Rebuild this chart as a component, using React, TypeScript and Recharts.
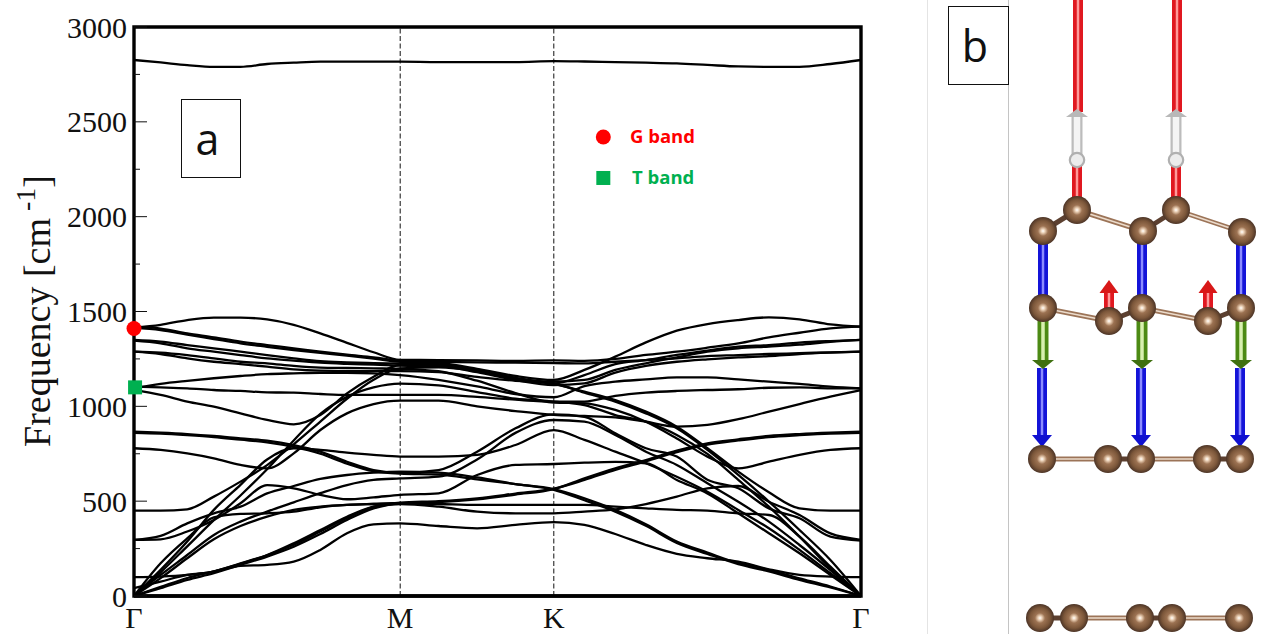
import { ComposedChart, Line, Scatter, XAxis, YAxis, ReferenceLine, ReferenceArea } from 'recharts'

// path coordinate along G-M-K-G, M = 1
const kPath = [0, 0.1, 0.2, 0.3, 0.4, 0.5, 0.6, 0.7, 0.8, 0.9, 1, 1.144, 1.289, 1.433, 1.577, 1.692, 1.808, 1.923, 2.039, 2.154, 2.27, 2.385, 2.5, 2.616, 2.731]
const kTicks = [0, 1, 1.577, 2.731]
const kLabels = ['Γ', 'M', 'K', 'Γ']
const freqTicks = [0, 250, 500, 750, 1000, 1250, 1500, 1750, 2000, 2250, 2500, 2750, 3000]

const band01 = [1415, 1430, 1455, 1468, 1468, 1458, 1430, 1385, 1335, 1285, 1245, 1244, 1242, 1240, 1242, 1240, 1250, 1271, 1288, 1309, 1332, 1364, 1388, 1411, 1420]
const band02 = [1420, 1410, 1385, 1364, 1341, 1323, 1306, 1288, 1272, 1258, 1240, 1230, 1198, 1160, 1139, 1192, 1262, 1337, 1399, 1434, 1455, 1469, 1459, 1432, 1420]
const band03 = [1415, 1402, 1378, 1355, 1332, 1314, 1297, 1282, 1268, 1252, 1235, 1234, 1232, 1230, 1228, 1226, 1235, 1244, 1253, 1265, 1270, 1276, 1280, 1285, 1288]
const band04 = [1350, 1341, 1323, 1306, 1288, 1270, 1253, 1238, 1232, 1228, 1225, 1222, 1190, 1148, 1121, 1165, 1223, 1244, 1271, 1294, 1315, 1323, 1336, 1344, 1350]
const band05 = [1346, 1332, 1306, 1288, 1270, 1253, 1241, 1230, 1224, 1220, 1215, 1212, 1180, 1138, 1112, 1121, 1178, 1213, 1235, 1248, 1258, 1265, 1276, 1283, 1288]
const band06 = [1288, 1283, 1270, 1253, 1235, 1227, 1213, 1204, 1202, 1200, 1198, 1185, 1135, 1070, 1020, 1016, 981, 919, 831, 735, 673, 708, 744, 770, 779]
const band07 = [1288, 1276, 1253, 1235, 1223, 1209, 1195, 1188, 1186, 1186, 1186, 1180, 1155, 1135, 1130, 1139, 1192, 1227, 1258, 1288, 1306, 1315, 1325, 1340, 1350]
const band08 = [1095, 1118, 1134, 1148, 1160, 1170, 1174, 1177, 1177, 1174, 1165, 1140, 1105, 1065, 1048, 1107, 1130, 1142, 1153, 1153, 1142, 1130, 1118, 1104, 1095]
const band09 = [1104, 1100, 1095, 1086, 1081, 1074, 1072, 1065, 1060, 1060, 1060, 1060, 1050, 1035, 1025, 1025, 1055, 1072, 1081, 1086, 1090, 1098, 1100, 1095, 1095]
const band10 = [1085, 1060, 1025, 998, 963, 928, 905, 954, 1068, 1156, 1218, 1215, 1190, 1150, 1118, 1077, 1033, 972, 893, 779, 656, 547, 462, 450, 450]
const band11 = [450, 450, 457, 524, 603, 690, 800, 920, 1040, 1140, 1200, 1205, 1185, 1145, 1121, 1072, 1025, 963, 884, 770, 638, 498, 348, 190, 0]
const band12 = [0, 125, 262, 400, 530, 668, 820, 960, 1050, 1100, 1120, 1110, 1075, 1040, 1025, 1007, 954, 919, 849, 749, 612, 471, 313, 146, 0]
const band13 = [779, 770, 752, 726, 691, 673, 752, 875, 963, 1012, 1030, 1030, 1000, 975, 955, 949, 942, 919, 893, 902, 932, 972, 1012, 1051, 1086]
const band14 = [0, 138, 287, 454, 586, 720, 779, 770, 756, 744, 735, 735, 744, 796, 875, 823, 761, 700, 629, 550, 454, 357, 243, 120, 0]
const band15 = [0, 111, 216, 322, 392, 445, 494, 542, 585, 612, 620, 629, 720, 860, 928, 919, 849, 761, 691, 594, 497, 392, 269, 137, 0]
const band16 = [866, 861, 854, 844, 831, 819, 796, 761, 708, 664, 650, 664, 761, 884, 958, 945, 858, 779, 735, 613, 568, 462, 410, 313, 292]
const band17 = [860, 856, 848, 838, 824, 810, 786, 750, 698, 658, 645, 640, 615, 590, 563, 515, 454, 378, 287, 229, 173, 137, 93, 50, 0]
const band18 = [296, 317, 383, 436, 471, 541, 580, 617, 638, 650, 656, 650, 625, 590, 560, 505, 445, 370, 280, 222, 168, 130, 85, 45, 0]
const band19 = [296, 299, 340, 401, 489, 585, 568, 533, 510, 520, 533, 541, 638, 691, 696, 703, 707, 700, 612, 541, 436, 331, 225, 111, 0]
const band20 = [0, 173, 304, 415, 433, 436, 445, 468, 480, 485, 489, 485, 480, 480, 480, 480, 471, 462, 454, 450, 436, 427, 313, 155, 0]
const band21 = [0, 94, 199, 299, 369, 418, 454, 471, 480, 485, 489]
const band22 = [99, 102, 111, 129, 159, 164, 181, 243, 331, 378, 383, 369, 357, 375, 389, 375, 327, 269, 222, 199, 181, 141, 111, 102, 99]
const band23 = [41, 76, 111, 129, 172, 216, 278, 348, 418, 471, 485, 471, 445, 436, 436, 445, 457, 485, 524, 568, 580, 497, 427, 330, 296]
const band24 = [0, 41, 85, 120, 164, 208, 260, 327, 401, 462, 489, 495, 510, 535, 563, 620, 673, 717, 766, 805, 826, 844, 854, 861, 866]
const band25 = [0, 48, 95, 130, 170, 215, 270, 340, 412, 470, 492, 500, 515, 540, 566, 612, 665, 710, 758, 798, 820, 838, 848, 856, 860]
const band26 = [2826, 2813, 2799, 2790, 2790, 2805, 2812, 2817, 2817, 2817, 2817, 2815, 2815, 2815, 2820, 2818, 2815, 2812, 2808, 2800, 2792, 2790, 2790, 2805, 2826]

const bands = [band01, band02, band03, band04, band05, band06, band07, band08, band09, band10, band11, band12, band13,
  band14, band15, band16, band17, band18, band19, band20, band21, band22, band23, band24, band25, band26]

const gBandPoints = [{ x: 0, y: 1410 }, { x: 1.763, y: 2420 }]
const tBandPoints = [{ x: 0.004, y: 1100 }, { x: 1.763, y: 2204 }]

const rows = kPath.map((x, i) => {
  const row: any = { x }
  bands.forEach((b, j) => { row['b' + j] = i < b.length ? b[i] : null })
  return row
})

// panel b, atom centres
const atoms = [
  [1077, 210], [1176, 210], [1043, 231], [1143, 231], [1242, 232],
  [1043, 308], [1142, 308], [1241, 308], [1109, 321], [1208, 321],
  [1042, 459], [1108, 459], [1141, 459], [1207, 459], [1240, 459],
  [1040, 618], [1074, 618], [1140, 618], [1172, 618], [1239, 618],
].map(([x, y]) => ({ x, y }))
const longBonds = [
  [1077, 210, 1143, 231], [1176, 210, 1242, 232], [1043, 308, 1109, 321], [1142, 308, 1208, 321],
  [1042, 459, 1108, 459], [1141, 459, 1207, 459], [1074, 618, 1140, 618], [1172, 618, 1239, 618],
]
const shortBonds = [
  [1043, 231, 1077, 210], [1143, 231, 1176, 210], [1109, 321, 1142, 308], [1208, 321, 1241, 308],
  [1108, 459, 1141, 459], [1207, 459, 1240, 459], [1040, 618, 1074, 618], [1140, 618, 1172, 618],
]
const redShafts = [
  [1078, 0, 1078, 112], [1177, 0, 1177, 112], [1077, 165, 1077, 200], [1176, 165, 1176, 200],
  [1109, 292, 1109, 312], [1208, 292, 1208, 312],
]
const whiteShafts = [[1077, 116, 1077, 160], [1176, 116, 1176, 160]]
const blueShafts = [
  [1043, 240, 1043, 298], [1142, 240, 1142, 298], [1241, 240, 1241, 298],
  [1042, 368, 1042, 438], [1141, 368, 1141, 438], [1240, 368, 1240, 438],
]
const greenShafts = [[1043, 318, 1043, 362], [1142, 318, 1142, 362], [1241, 318, 1241, 362]]
const whiteHeads = [{ x: 1077, y: 117 }, { x: 1176, y: 117 }]
const whiteBalls = [{ x: 1077, y: 160 }, { x: 1176, y: 160 }]
const redHeads = [{ x: 1109, y: 293 }, { x: 1208, y: 293 }]
const greenHeads = [{ x: 1043, y: 360 }, { x: 1142, y: 360 }, { x: 1241, y: 360 }]
const blueHeads = [{ x: 1042, y: 435 }, { x: 1141, y: 435 }, { x: 1240, y: 435 }]

const FreqTick = (props: any) => {
  const { x, y, payload, side } = props
  const len = payload.value % 500 === 0 ? 13 : 6
  return (
    <g>
      <line x1={x} x2={side === 'left' ? x + len : x - len} y1={y} y2={y} stroke="#111" strokeWidth={1} />
      {side === 'left' && payload.value % 500 === 0 && (
        <text x={x - 7} y={y} textAnchor="end" dominantBaseline="central" fontFamily="Liberation Serif" fontSize={30} fill="#111">
          {payload.value}
        </text>
      )}
    </g>
  )
}

const Atom = ({ cx, cy }: any) => (
  <g>
    <defs>
      <radialGradient id="carbon" cx="50%" cy="50%" r="50%">
        <stop offset="0%" stopColor="#ffffff" />
        <stop offset="14%" stopColor="#ecd2b8" />
        <stop offset="36%" stopColor="#9c7252" />
        <stop offset="72%" stopColor="#7c573a" />
        <stop offset="100%" stopColor="#4c3426" />
      </radialGradient>
    </defs>
    <circle cx={cx} cy={cy} r={14} fill="url(#carbon)" />
  </g>
)

const Ball = ({ cx, cy }: any) => <circle cx={cx} cy={cy} r={7.2} fill="#ececec" stroke="#b0b0b0" strokeWidth={2.2} />

const head = (fill: string, dir: number, w: number, h: number) => ({ cx, cy }: any) => (
  <path d={`M${cx - w / 2} ${cy}L${cx + w / 2} ${cy}L${cx} ${cy + dir * h}Z`} fill={fill} />
)

// draws one straight piece of panel b with a light core
const shaftLines = (list: number[][], outer: string, inner: string, w: number, core: number, name: string) =>
  list.flatMap((s, i) => {
    const pts = [{ x: s[0], y: s[1] }, { x: s[2], y: s[3] }]
    const out = [<Line key={name + i} data={pts} dataKey="y" stroke={outer} strokeWidth={w} dot={false} isAnimationActive={false} legendType="none" />]
    if (core > 0) out.push(<Line key={name + 'c' + i} data={pts} dataKey="y" stroke={inner} strokeWidth={core} dot={false} isAnimationActive={false} legendType="none" />)
    return out
  })

const boxStyle: any = { position: 'absolute', border: '1.5px solid #111', background: '#fff', boxSizing: 'border-box', fontFamily: 'Open Sans', fontSize: 43, color: '#111', display: 'flex', alignItems: 'center', justifyContent: 'center', paddingRight: 7 }
const tagStyle: any = { position: 'absolute', fontFamily: 'Open Sans', fontWeight: 700, fontSize: 18.5, lineHeight: '20px' }

export default function App() {
  return (
    <div style={{ position: 'absolute', left: 0, top: 0, width: 1264, height: 634, background: '#fff', overflow: 'hidden' }}>
      <div style={{ position: 'absolute', left: 0, top: 0 }}>
        <ComposedChart width={900} height={634} data={rows} margin={{ top: 27, right: 0, bottom: 0, left: 0 }}>
          <XAxis dataKey="x" type="number" domain={[0, 2.731]} ticks={kTicks} interval={0} height={38} tickLine={false}
            tickFormatter={(v: number) => kLabels[kTicks.indexOf(v)]} tickMargin={5}
            tick={{ fontFamily: 'Liberation Serif', fontSize: 30, fill: '#111' }} axisLine={{ stroke: '#000', strokeWidth: 3.3 }} />
          <YAxis type="number" domain={[0, 3000]} ticks={freqTicks} interval={0} width={134} tickLine={false} tickSize={0} tickMargin={0}
            tick={<FreqTick side="left" />} axisLine={false} />
          <YAxis yAxisId="right" orientation="right" type="number" domain={[0, 3000]} ticks={freqTicks} interval={0} width={39} tickLine={false} tickSize={0} tickMargin={0}
            tick={<FreqTick side="right" />} axisLine={false} />
          <ReferenceArea x1={0} x2={2.731} y1={0} y2={3000} fill="none" stroke="#000" strokeWidth={3.4} />
          <ReferenceLine x={1} stroke="#111" strokeDasharray="5 2.5" strokeWidth={1} />
          <ReferenceLine x={1.577} stroke="#111" strokeDasharray="5 2.5" strokeWidth={1} />
          {bands.map((_, j) => (
            <Line key={j} dataKey={'b' + j} type="monotone" stroke="#000" strokeWidth={2.3} dot={false} isAnimationActive={false} />
          ))}
          <Scatter data={gBandPoints} dataKey="y" fill="#ff0000" isAnimationActive={false}
            shape={({ cx, cy }: any) => <circle cx={cx} cy={cy} r={7.5} fill="#ff0000" />} />
          <Scatter data={tBandPoints} dataKey="y" fill="#00b050" isAnimationActive={false}
            shape={({ cx, cy }: any) => <rect x={cx - 7} y={cy - 7} width={14} height={14} fill="#00b050" />} />
        </ComposedChart>
      </div>

      <div style={{ position: 'absolute', left: 0, top: 0, width: 80, height: 634 }}>
        <div style={{ position: 'absolute', left: 39, top: 311, transform: 'translate(-50%, -50%) rotate(-90deg)', whiteSpace: 'nowrap', fontFamily: 'Liberation Serif', fontSize: 38, lineHeight: '40px', color: '#111' }}>
          Frequency [cm<span style={{ fontSize: 28, position: 'relative', top: -15 }}> -1</span>]
        </div>
      </div>

      <div style={{ ...boxStyle, left: 181, top: 99, width: 60, height: 79 }}>a</div>
      <div style={{ ...tagStyle, left: 630, top: 126, color: '#ff0000' }}>G band</div>
      <div style={{ ...tagStyle, left: 632, top: 167, color: '#00b050' }}>T band</div>

      <div style={{ position: 'absolute', left: 927, top: 0, width: 1, height: 634, background: '#e4e4e4' }} />
      <div style={{ position: 'absolute', left: 1008, top: 0, width: 1, height: 634, background: '#c4c4c4' }} />
      <div style={{ ...boxStyle, left: 948, top: 6, width: 61, height: 79 }}>b</div>

      <div style={{ position: 'absolute', left: 1010, top: 0 }}>
        <ComposedChart width={254} height={634} margin={{ top: 0, right: 0, bottom: 0, left: 0 }}>
          <XAxis hide type="number" dataKey="x" domain={[1010, 1264]} allowDataOverflow />
          <YAxis hide type="number" domain={[0, 634]} reversed allowDataOverflow />
          {shaftLines(redShafts, '#e01820', '#ff9a9a', 10, 2.5, 'red')}
          {shaftLines(whiteShafts, '#bcbcbc', '#f4f4f4', 11, 6.5, 'white')}
          {shaftLines(blueShafts, '#1414d8', '#8c8cff', 10, 2.5, 'blue')}
          {shaftLines(greenShafts, '#4c8a14', '#d8f0b0', 11, 3.5, 'green')}
          {shaftLines(longBonds, '#9c7458', '#ecdccc', 5, 1.5, 'long')}
          {shaftLines(shortBonds, '#5c4030', '', 5, 0, 'short')}
          <Scatter data={whiteHeads} dataKey="y" isAnimationActive={false} shape={head('#b8b8b8', -1, 22, 8)} />
          <Scatter data={whiteBalls} dataKey="y" isAnimationActive={false} shape={Ball} />
          <Scatter data={redHeads} dataKey="y" isAnimationActive={false} shape={head('#d81818', -1, 19, 13)} />
          <Scatter data={greenHeads} dataKey="y" isAnimationActive={false} shape={head('#3f7010', 1, 22, 9)} />
          <Scatter data={blueHeads} dataKey="y" isAnimationActive={false} shape={head('#1010d0', 1, 20, 12)} />
          <Scatter data={atoms} dataKey="y" isAnimationActive={false} shape={Atom} />
        </ComposedChart>
      </div>
    </div>
  )
}
